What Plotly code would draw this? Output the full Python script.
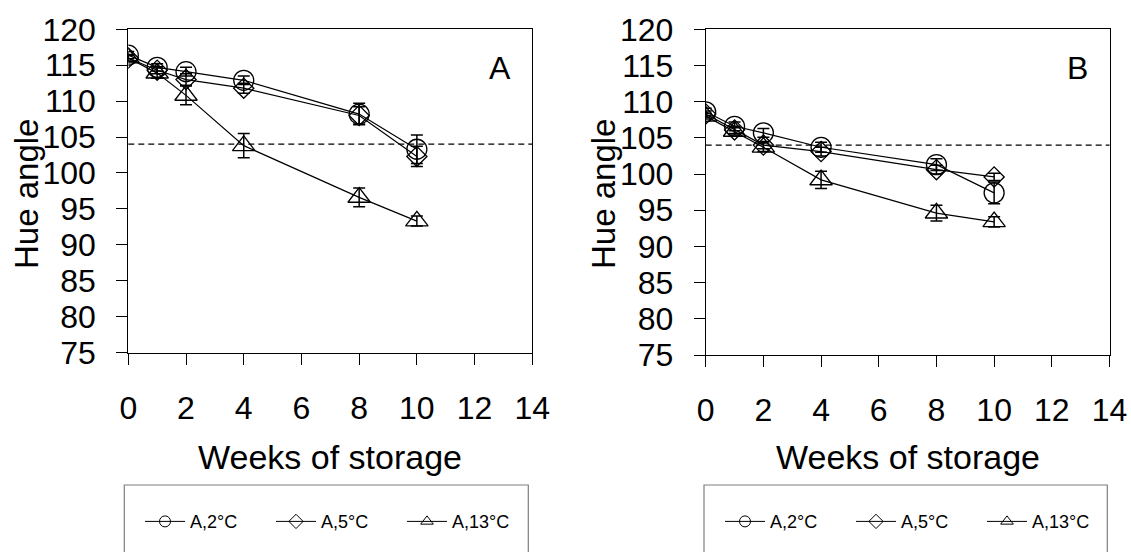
import plotly.graph_objects as go

weeks = [0, 1, 2, 4, 8, 10]
series_names = ["A,2°C", "A,5°C", "A,13°C"]
symbols = ["circle-open", "diamond-open", "triangle-up-open"]
marker_sizes = [20, 15.5, 19.5]

# Panel A
a_2c = [116.4, 114.7, 114.1, 112.9, 108.2, 103.3]
a_5c = [116.0, 114.3, 113.0, 111.8, 108.0, 102.3]
a_13c = [116.0, 113.9, 110.8, 103.8, 96.6, 93.3]
a_2c_err = [0.5, 0.5, 0.6, 0.6, 1.5, 2.0]
a_5c_err = [0.4, 0.5, 0.8, 0.7, 1.2, 1.4]
a_13c_err = [0.5, 0.7, 1.3, 1.7, 1.3, 0.7]

# Panel B
b_2c = [108.6, 106.6, 105.7, 103.7, 101.3, 97.4]
b_5c = [108.3, 106.1, 104.0, 103.1, 100.6, 99.6]
b_13c = [108.0, 105.9, 103.7, 99.2, 94.6, 93.4]
b_2c_err = [0.5, 0.6, 0.6, 0.7, 0.8, 1.5]
b_5c_err = [0.4, 0.5, 0.5, 0.6, 0.6, 0.5]
b_13c_err = [0.4, 0.5, 0.6, 1.2, 1.1, 0.7]

threshold = 104
x_ticks = [0, 2, 4, 6, 8, 10, 12, 14]
y_ticks = [75, 80, 85, 90, 95, 100, 105, 110, 115, 120]

FONT = "Liberation Sans, Arial, sans-serif"
W, H = 1131, 552

fig = go.Figure()

panels = [
    ("x", "y", "legend", [a_2c, a_5c, a_13c], [a_2c_err, a_5c_err, a_13c_err]),
    ("x2", "y2", "legend2", [b_2c, b_5c, b_13c], [b_2c_err, b_5c_err, b_13c_err]),
]
for xa, ya, leg, vals, errs in panels:
    for name, sym, ms, v, e in zip(series_names, symbols, marker_sizes, vals, errs):
        fig.add_trace(go.Scatter(
            x=weeks, y=v, name=name, mode="lines+markers",
            xaxis=xa, yaxis=ya, showlegend=False,
            line=dict(color="black", width=1.2),
            marker=dict(symbol=sym, size=ms, color="black", line=dict(color="black", width=1.3)),
            error_y=dict(type="data", array=e, visible=True, color="black", thickness=1.5, width=6),
        ))
    # legend entries (no error bars in the legend symbol)
    for name, sym in zip(series_names, symbols):
        fig.add_trace(go.Scatter(
            x=[None], y=[None], name=name, mode="lines+markers",
            xaxis=xa, yaxis=ya, legend=leg, showlegend=True,
            line=dict(color="black", width=1),
            marker=dict(symbol=sym, size=11, color="black", line=dict(color="black", width=1)),
        ))

axis_common = dict(
    showline=True, linecolor="black", linewidth=1, mirror=True,
    ticks="outside", ticklen=11, tickcolor="black", tickwidth=1,
    showgrid=False, zeroline=False, automargin=False,
    tickfont=dict(family=FONT, size=32, color="black"),
)

xdomA = [128.3 / W, 532.3 / W]
ydomA = [1 - 352.5 / H, 1 - 29.3 / H]
xdomB = [705.7 / W, 1109.5 / W]
ydomB = [1 - 355.0 / H, 1 - 29.3 / H]

legend_common = dict(
    orientation="h", y=1 - 521.7 / H, yanchor="middle",
    font=dict(family=FONT, size=18, color="black"), bgcolor="rgba(0,0,0,0)",
    itemsizing="trace", itemwidth=40, entrywidth=76, entrywidthmode="pixels",
    traceorder="normal",
)

fig.update_layout(
    width=W, height=H,
    margin=dict(l=0, r=0, t=0, b=0, autoexpand=False),
    paper_bgcolor="white", plot_bgcolor="white",
    font=dict(family=FONT, color="black"),
    xaxis=dict(domain=xdomA, anchor="y", range=[0, 14], tickvals=x_ticks, ticklabelstandoff=16, **axis_common),
    yaxis=dict(domain=ydomA, anchor="x", range=[75, 120], tickvals=y_ticks, ticklabelstandoff=14, **axis_common),
    xaxis2=dict(domain=xdomB, anchor="y2", range=[0, 14], tickvals=x_ticks, ticklabelstandoff=16, **axis_common),
    yaxis2=dict(domain=ydomB, anchor="x2", range=[75, 120], tickvals=y_ticks, ticklabelstandoff=14, **axis_common),
    legend=dict(x=140 / W, xanchor="left", **legend_common),
    legend2=dict(x=(140 + 580) / W, xanchor="left", **legend_common),
    showlegend=True,
)

# Threshold dashed lines
for xr, yr in [("x domain", "y"), ("x2 domain", "y2")]:
    fig.add_shape(type="line", xref=xr, yref=yr, x0=0, x1=1, y0=threshold, y1=threshold,
                  line=dict(color="black", width=1.2, dash="6px,4px"))

# Legend boxes
fig.add_shape(type="rect", xref="paper", yref="paper", x0=124.3 / W, x1=528.3 / W,
              y0=-0.1, y1=1 - 485 / H, line=dict(color="#7f7f7f", width=1.2))
fig.add_shape(type="rect", xref="paper", yref="paper", x0=704 / W, x1=1107.3 / W,
              y0=-0.1, y1=1 - 485 / H, line=dict(color="#7f7f7f", width=1.2))

# Titles and panel labels
ann = []
for xc, xt, lab, labx in [(26, 330.3, "A", 500), (603, 907.6, "B", 1077.7)]:
    ann.append(dict(text="Hue angle", x=xc / W, y=1 - 194 / H, xref="paper", yref="paper",
                    textangle=-90, showarrow=False, font=dict(family=FONT, size=33, color="black"),
                    xanchor="center", yanchor="middle"))
    ann.append(dict(text="Weeks of storage", x=xt / W, y=1 - 457 / H, xref="paper", yref="paper",
                    showarrow=False, font=dict(family=FONT, size=34, color="black"),
                    xanchor="center", yanchor="middle"))
    ann.append(dict(text=lab, x=labx / W, y=1 - 67.5 / H, xref="paper", yref="paper",
                    showarrow=False, font=dict(family=FONT, size=32, color="black"),
                    xanchor="center", yanchor="middle"))
fig.update_layout(annotations=ann)

fig.write_html("out.html")
